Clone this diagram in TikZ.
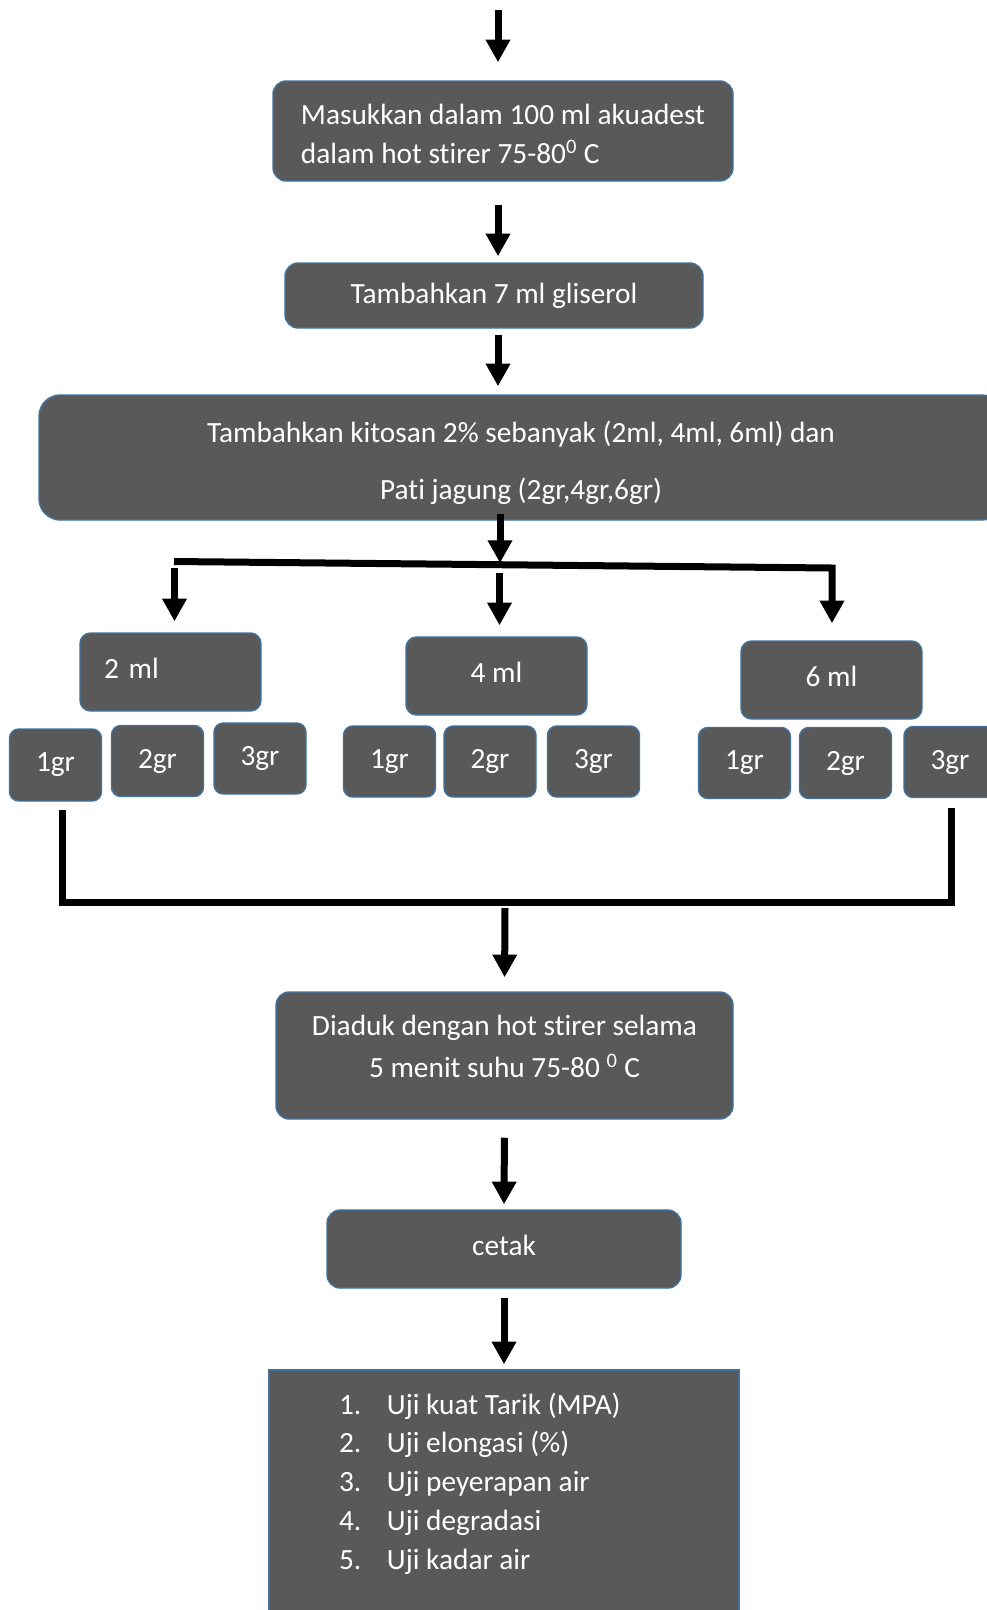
\documentclass[tikz,border=0pt]{standalone}
\usepackage{fontspec}
\setmainfont{Carlito}[Ligatures=NoCommon]
\usetikzlibrary{arrows.meta}
\definecolor{boxfill}{HTML}{595959}
\definecolor{boxline}{HTML}{41719C}
\newcommand{\lowerby}[2]{\raisebox{-#1}[\height][\depth]{#2}}
\tikzset{
  stepbox/.style={draw=boxline, fill=boxfill, line width=1.1pt, rounded corners=10pt,
    text=white, inner sep=0pt, font=\fontsize{22pt}{29pt}\selectfont},
  mlbox/.style={stepbox, minimum width=135.75pt, minimum height=58.5pt, rounded corners=8pt,
    text height=15pt, text depth=6pt},
  grbox/.style={stepbox, minimum width=69pt, minimum height=53.25pt, rounded corners=7pt},
  arr/.style={line width=5.25pt, -{Triangle[length=17pt,width=17.5pt]}},
  bar/.style={line width=5.25pt},
}

\begin{document}
\begin{tikzpicture}[x=0.75pt,y=-0.75pt]
\useasboundingbox (0,0) rectangle (987,1610);
\clip (0,0) rectangle (987,1610);

% main steps
\node[stepbox, minimum width=345pt, minimum height=75pt] (b1) at (503,131)
  {\lowerby{3.75pt}{\begin{tabular}{@{}l@{}}Masukkan dalam 100 ml akuadest\\dalam hot stirer 75-80\textsuperscript{0} C\end{tabular}}};
\node[stepbox, minimum width=313.5pt, minimum height=48.75pt] (b2) at (494,295.5)
  {Tambahkan 7 ml gliserol};
\node[stepbox, minimum width=723pt, minimum height=93.75pt, rounded corners=16pt] (b3) at (521,457.5)
  {\lowerby{4pt}{\begin{tabular}{@{}c@{}}Tambahkan kitosan 2\% sebanyak (2ml, 4ml, 6ml) dan\\[13.75pt]Pati jagung (2gr,4gr,6gr)\end{tabular}}};

% kitosan
\node[mlbox, text width=99.75pt, align=left] (m1) at (170.5,672) {2 ml};
\node[mlbox] (m2) at (496.5,676) {4 ml};
\node[mlbox] (m3) at (831.5,680) {6 ml};

% pati jagung
\node[grbox, minimum height=54pt] (g1a) at (55.5,765) {1gr};
\node[grbox] (g2a) at (157.5,761) {2gr};
\node[grbox] (g3a) at (260,758.5) {3gr};
\node[grbox] (g1b) at (389.5,761.5) {1gr};
\node[grbox] (g2b) at (490,761.5) {2gr};
\node[grbox] (g3b) at (593.5,761.5) {3gr};
\node[grbox] (g1c) at (744.5,763) {1gr};
\node[grbox] (g2c) at (845.5,763) {2gr};
\node[grbox] (g3c) at (950,762) {3gr};

\node[stepbox, minimum width=342.75pt, minimum height=95.25pt] (b4) at (504.5,1055.5)
  {\lowerby{-5.25pt}{\begin{tabular}{@{}c@{}}Diaduk dengan hot stirer selama\\[2.5pt]5 menit suhu 75-80 \textsuperscript{0} C\end{tabular}}};
\node[stepbox, minimum width=265.5pt, minimum height=58.5pt, text height=15pt, text depth=6pt] (b5) at (504,1249) {cetak};
\node[stepbox, sharp corners, minimum width=352.5pt] (uji) at (504,1505)
  {\parbox[c][202.5pt][t]{247.5pt}{\fontsize{22pt}{29.1pt}\selectfont\raggedright
   \vspace*{17pt}%
   \makebox[36pt][l]{1.}Uji kuat Tarik (MPA)\\
   \makebox[36pt][l]{2.}Uji elongasi (\%)\\
   \makebox[36pt][l]{3.}Uji peyerapan air\\
   \makebox[36pt][l]{4.}Uji degradasi\\
   \makebox[36pt][l]{5.}Uji kadar air}};

% arrows
\coordinate (top) at (498,10);
\draw[arr, shorten >=13.5pt] (top) -- (b1.north -| top);
\draw[arr, shorten <=17.25pt, shorten >=4.5pt] (b1.south -| top) -- (b2.north -| top);
\draw[arr, shorten <=4.5pt, shorten >=6pt] (b2.south -| top) -- (b3.north -| top);

\coordinate (split) at (500,563);
\draw[arr, shorten <=-5.25pt] (b3.south -| split) -- (split);
\coordinate (barL) at (174,561.5);
\coordinate (barR) at (832,568);
\draw[arr, shorten >=12.75pt] (barL) -- (barR) -- (barR |- m3.north);
\coordinate (dropL) at (174.5,568);
\draw[arr, shorten >=8.25pt] (dropL) -- (dropL |- m1.north);
\coordinate (dropM) at (499.5,573);
\draw[arr, shorten >=8.25pt] (dropM) -- (dropM |- m2.north);

\coordinate (joinL) at (62.5,810);
\coordinate (joinR) at (951,808);
\coordinate (baseR) at (951,902);
\draw[bar] (joinL) |- (baseR) -- (joinR);

\coordinate (merge) at (505,908);
\draw[arr, shorten >=10.5pt] (merge) -- (b4.north);
\draw[arr, shorten <=13.5pt, shorten >=3.75pt] (b4.south) -- (b5.north);
\draw[arr, shorten <=6.75pt, shorten >=3.75pt] (b5.south) -- (uji.north);

\end{tikzpicture}
\end{document}
